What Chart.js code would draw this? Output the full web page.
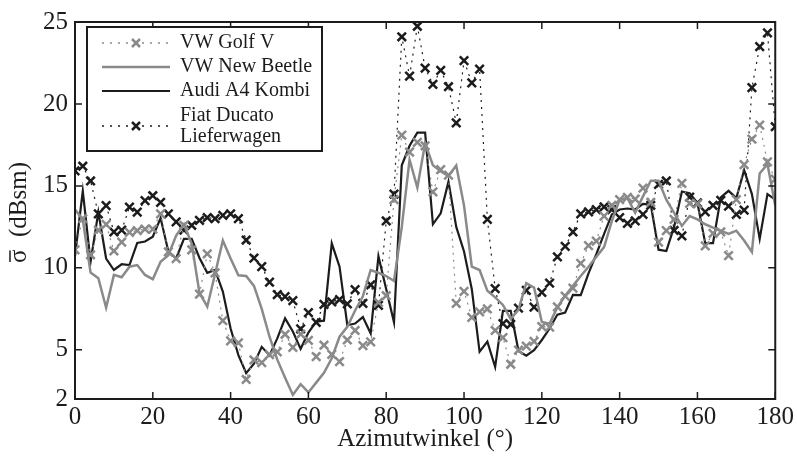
<!DOCTYPE html>
<html>
<head>
<meta charset="utf-8">
<script src="https://cdn.jsdelivr.net/npm/chart.js@4.4.1/dist/chart.umd.min.js"></script>
<style>
  html, body { margin: 0; padding: 0; background: #fff; }
  #wrap { width: 797px; height: 464px; }
</style>
</head>
<body>
<div id="wrap"><canvas id="myChart" width="797" height="464"></canvas></div>
<script>
// azimuth angles in degrees
const angles = [0, 2, 4, 6, 8, 10, 12, 14, 16, 18, 20, 22, 24, 26, 28, 30, 32, 34, 36, 38,
  40, 42, 44, 46, 48, 50, 52, 54, 56, 58, 60, 62, 64, 66, 68, 70, 72, 74, 76, 78,
  80, 82, 84, 86, 88, 90, 92, 94, 96, 98, 100, 102, 104, 106, 108, 110, 112, 114, 116, 118,
  120, 122, 124, 126, 128, 130, 132, 134, 136, 138, 140, 142, 144, 146, 148, 150, 152, 154, 156, 158,
  160, 162, 164, 166, 168, 170, 172, 174, 176, 178, 180];

const golfV = [11.1, 13.0, 10.8, 12.3, 12.66, 11.03, 11.57, 12.17, 12.27, 12.37, 12.37, 13.3, 10.97, 10.57, 12.6, 11.1, 8.4, 10.85, 9.7, 6.78,
  5.54, 5.42, 3.19, 4.38, 4.22, 4.7, 4.88, 5.95, 5.15, 5.96, 5.58, 4.58, 5.28, 4.72, 4.28, 5.6, 6.18, 5.26, 5.48, 7.9,
  8.3, 14.16, 18.1, 17.06, 17.65, 17.45, 14.63, 16.0, 15.66, 7.83, 8.57, 6.98, 7.32, 7.5, 6.18, 5.75, 4.12, 4.98, 5.22, 5.52,
  6.42, 6.38, 7.62, 8.27, 8.77, 10.27, 11.36, 11.63, 13.16, 13.82, 14.16, 14.3, 14.2, 14.86, 14.0, 11.57, 12.27, 12.96, 15.16, 13.94,
  13.9, 11.34, 12.1, 12.2, 10.75, 14.16, 16.3, 17.85, 18.71, 16.46, 15.42];

const newBeetle = [13.56, 12.96, 9.71, 9.37, 7.57, 9.57, 9.43, 10.07, 10.17, 9.57, 9.31, 10.37, 10.77, 11.97, 12.66, 11.47, 8.47, 7.63, 9.63, 11.67,
  10.57, 9.55, 9.51, 8.9, 7.5, 5.8, 4.4, 3.3, 2.25, 2.9, 2.4, 3.0, 3.6, 4.48, 5.8, 6.4, 7.4, 8.27, 9.87, 9.7,
  9.5, 9.2, 12.5, 16.6, 14.9, 17.6, 16.26, 15.9, 15.6, 16.24, 13.8, 10.07, 9.87, 8.6, 8.2, 7.74, 6.88, 7.45, 9.07, 8.8,
  6.7, 6.6, 7.6, 8.3, 8.9, 9.5, 10.07, 10.67, 11.27, 12.86, 14.16, 14.26, 13.36, 14.36, 15.32, 15.32, 14.16, 13.36, 12.56, 13.16,
  12.96, 12.66, 12.46, 12.27, 12.07, 12.27, 11.67, 10.97, 15.76, 16.33, 13.8];

const audiA4 = [10.7, 14.7, 10.37, 13.4, 10.57, 9.87, 10.22, 10.17, 11.52, 11.61, 11.9, 13.04, 11.0, 10.57, 11.77, 11.77, 10.6, 9.7, 9.87, 8.55,
  6.3, 4.68, 3.58, 4.15, 5.18, 4.66, 5.7, 6.92, 6.12, 5.06, 6.05, 6.72, 6.78, 11.5, 10.07, 6.5, 6.6, 7.0, 6.0, 10.71,
  8.7, 6.68, 16.26, 17.45, 18.25, 18.25, 12.66, 13.33, 15.26, 12.5, 11.0, 8.7, 4.88, 5.5, 3.95, 7.38, 7.38, 4.93, 4.64, 4.98,
  5.6, 6.3, 7.15, 7.28, 8.35, 8.34, 9.67, 10.83, 12.07, 13.26, 13.56, 13.62, 13.56, 13.9, 13.86, 11.11, 11.03, 12.5, 14.66, 14.56,
  13.96, 11.51, 11.51, 14.3, 14.7, 14.26, 15.96, 14.5, 11.77, 14.5, 14.16];

const fiatDucato = [15.92, 16.2, 15.3, 13.3, 13.8, 12.2, 12.3, 13.7, 13.4, 14.1, 14.4, 14.0, 13.3, 12.8, 12.3, 12.6, 12.9, 13.07, 13.0, 13.2,
  13.3, 13.0, 11.7, 10.6, 10.07, 9.13, 8.37, 8.24, 8.0, 6.28, 7.27, 6.68, 7.77, 7.93, 8.07, 7.8, 8.67, 7.83, 8.97, 7.71,
  12.86, 14.5, 24.1, 21.7, 24.74, 22.19, 21.2, 22.05, 21.05, 18.85, 22.64, 21.29, 22.13, 12.96, 8.74, 6.6, 6.55, 7.55, 8.63, 7.6,
  8.51, 9.07, 10.67, 11.31, 12.2, 13.3, 13.42, 13.56, 13.72, 13.56, 13.07, 12.72, 12.86, 13.26, 13.82, 15.1, 15.3, 12.28, 11.95, 14.32,
  13.96, 13.42, 13.82, 14.12, 13.76, 13.26, 13.52, 20.99, 23.5, 24.34, 18.61];

const seriesNames = ["VW Golf V", "VW New Beetle", "Audi A4 Kombi", "Fiat Ducato\nLieferwagen"];
const yTickValues = [2, 5, 10, 15, 20, 25];
const yTitleSymbol = "σ";
const yTitleUnit = "  (dBsm)";

const serif = "'Liberation Serif', 'Times New Roman', serif";
const gray = "#8a8a8a";
const black = "#1c1c1c";

function toPoints(values) {
  return angles.map((a, i) => ({ x: a, y: values[i] }));
}

const framePlugin = {
  id: "frame",
  afterDraw(chart) {
    const { ctx, chartArea: a, scales: { x, y } } = chart;
    ctx.save();
    ctx.strokeStyle = black;
    ctx.lineWidth = 2;
    ctx.strokeRect(a.left, a.top, a.right - a.left, a.bottom - a.top);
    ctx.lineWidth = 1.5;
    ctx.beginPath();
    x.ticks.forEach(t => {
      const px = x.getPixelForValue(t.value);
      ctx.moveTo(px, a.bottom); ctx.lineTo(px, a.bottom - 7);
      ctx.moveTo(px, a.top); ctx.lineTo(px, a.top + 7);
    });
    y.ticks.forEach(t => {
      const py = y.getPixelForValue(t.value);
      ctx.moveTo(a.left, py); ctx.lineTo(a.left + 7, py);
      ctx.moveTo(a.right, py); ctx.lineTo(a.right - 7, py);
    });
    ctx.stroke();

    // y axis title, sigma with a bar over it
    ctx.save();
    ctx.translate(19, (a.top + a.bottom) / 2 + 2);
    ctx.rotate(-Math.PI / 2);
    ctx.font = "25px " + serif;
    ctx.fillStyle = black;
    ctx.textBaseline = "middle";
    ctx.textAlign = "left";
    const sw = ctx.measureText(yTitleSymbol).width;
    const tw = sw + ctx.measureText(yTitleUnit).width;
    const x0 = -tw / 2;
    ctx.fillText(yTitleSymbol + yTitleUnit, x0, 0);
    ctx.strokeStyle = black;
    ctx.lineWidth = 1.5;
    ctx.beginPath();
    ctx.moveTo(x0 + 1, -9);
    ctx.lineTo(x0 + sw - 1, -9);
    ctx.stroke();
    ctx.restore();

    // legend box
    const bx = 87, by = 27, bw = 235, bh = 124;
    ctx.fillStyle = "#fff";
    ctx.fillRect(bx, by, bw, bh);
    ctx.lineWidth = 2;
    ctx.strokeStyle = black;
    ctx.strokeRect(bx, by, bw, bh);
    const rows = [43, 67, 91, 126];
    chart.data.datasets.forEach((ds, i) => {
      const yy = rows[i];
      ctx.strokeStyle = ds.borderColor;
      ctx.lineWidth = ds.borderDash.length ? 1.5 : ds.borderWidth;
      ctx.setLineDash(ds.borderDash.length ? [2, 6] : []);
      ctx.beginPath();
      ctx.moveTo(102, yy); ctx.lineTo(170, yy);
      ctx.stroke();
      ctx.setLineDash([]);
      if (ds.pointRadius > 0) {
        ctx.strokeStyle = ds.pointBorderColor;
        ctx.lineWidth = ds.pointBorderWidth;
        ctx.beginPath();
        ctx.moveTo(132, yy - 4); ctx.lineTo(140, yy + 4);
        ctx.moveTo(140, yy - 4); ctx.lineTo(132, yy + 4);
        ctx.stroke();
      }
      ctx.fillStyle = black;
      ctx.font = "20px " + serif;
      ctx.textBaseline = "middle";
      ctx.textAlign = "left";
      const lines = seriesNames[i].split("\n");
      if (lines.length === 1) {
        ctx.fillText(lines[0], 180, yy);
      } else {
        ctx.fillText(lines[0], 180, yy - 10);
        ctx.fillText(lines[1], 180, yy + 11);
      }
    });
    ctx.restore();
  }
};

const ctx = document.getElementById("myChart");
new Chart(ctx, {
  type: "line",
  data: {
    datasets: [
      {
        label: seriesNames[0],
        data: toPoints(golfV),
        borderColor: gray,
        borderWidth: 1.2,
        borderDash: [2, 5],
        pointStyle: "crossRot",
        pointRadius: 6,
        pointBorderColor: gray,
        pointBorderWidth: 2.5,
        tension: 0,
      },
      {
        label: seriesNames[1],
        data: toPoints(newBeetle),
        borderColor: gray,
        borderWidth: 2.5,
        borderDash: [],
        pointRadius: 0,
        tension: 0,
      },
      {
        label: seriesNames[2],
        data: toPoints(audiA4),
        borderColor: black,
        borderWidth: 2.2,
        borderDash: [],
        pointRadius: 0,
        tension: 0,
      },
      {
        label: seriesNames[3],
        data: toPoints(fiatDucato),
        borderColor: black,
        borderWidth: 1.2,
        borderDash: [2, 5],
        pointStyle: "crossRot",
        pointRadius: 6,
        pointBorderColor: black,
        pointBorderWidth: 2.5,
        tension: 0,
      },
    ],
  },
  plugins: [framePlugin],
  options: {
    responsive: false,
    animation: false,
    devicePixelRatio: 1,
    layout: { padding: { top: 14, right: 20, left: 0, bottom: 0 } },
    plugins: {
      legend: { display: false },
      tooltip: { enabled: false },
    },
    scales: {
      x: {
        type: "linear",
        min: 0,
        max: 180,
        grid: { display: false, drawTicks: false },
        border: { display: false },
        ticks: {
          stepSize: 20,
          color: black,
          padding: 3,
          maxRotation: 0,
          font: { family: serif, size: 25 },
        },
        title: {
          display: true,
          text: "Azimutwinkel (°)",
          color: black,
          padding: { top: 0, bottom: 10 },
          font: { family: serif, size: 25 },
        },
        afterFit(scale) { scale.height = 65; },
      },
      y: {
        type: "linear",
        min: 2,
        max: 25,
        grid: { display: false, drawTicks: false },
        border: { display: false },
        afterBuildTicks(scale) {
          scale.ticks = yTickValues.map(v => ({ value: v }));
        },
        ticks: {
          color: black,
          padding: 7,
          font: { family: serif, size: 25 },
        },
        afterFit(scale) { scale.width = 75; },
      },
    },
  },
});
</script>
</body>
</html>
